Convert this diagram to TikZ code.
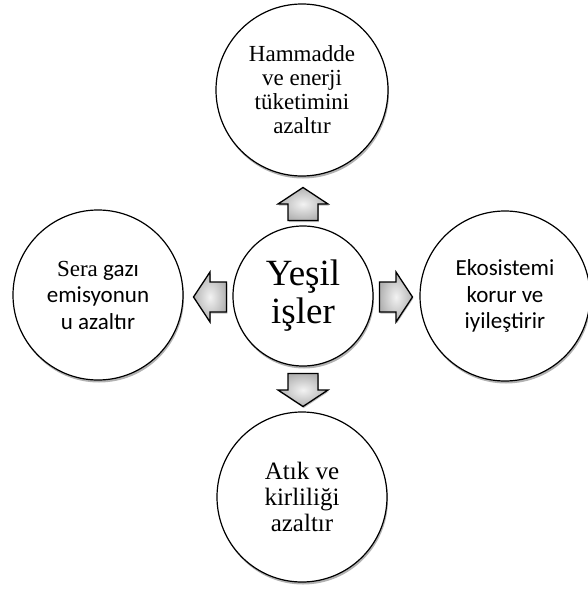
\documentclass[tikz,border=0pt]{standalone}
\usepackage{fontspec}
\setmainfont{Liberation Serif}
\newfontfamily\calib{Carlito}
\usetikzlibrary{shadows}
\begin{document}
\begin{tikzpicture}[x=1pt,y=-1pt,
  bubble/.style={circle, draw=black, line width=1.2pt, fill=white, align=center, inner sep=0pt,
    drop shadow={shadow xshift=1pt, shadow yshift=-2.5pt, opacity=0.3, fill=black}},
  blockarrow/.style={draw=black, line width=1.3pt, line join=miter,
    shading=radial, inner color=gray!10, outer color=gray!60,
    drop shadow={shadow xshift=0.8pt, shadow yshift=-1.5pt, opacity=0.25, fill=black}}]
\useasboundingbox (0,0) rectangle (587,594);
\node[bubble, minimum size=140pt, font=\fontsize{37}{38}\selectfont] (c) at (303,296) {Yeşil\\işler};
\node[bubble, minimum size=172pt, font=\fontsize{23}{24}\selectfont] (top) at (302,90) {Hammadde\\ve enerji\\tüketimini\\azaltır};
\node[bubble, minimum size=170pt, font=\calib\fontsize{23}{26.5}\selectfont] (left) at (98,295) {{\rmfamily Sera} gazı\\emisyonun\\u azaltır};
\node[bubble, minimum size=170pt, font=\calib\fontsize{23}{26.5}\selectfont] (right) at (505,296) {Ekosistemi\\korur ve\\iyileştirir};
\node[bubble, minimum size=170pt, font=\fontsize{25}{26}\selectfont] (bottom) at (302,497) {Atık ve\\kirliliği\\azaltır};
\coordinate (au) at (303,204);
\coordinate (al) at (210,297);
\coordinate (ar) at (396,297);
\coordinate (ad) at (303,390);
\foreach \p/\r in {au/90, al/180, ar/0, ad/270}{
  \begin{scope}[shift={(\p)}, rotate=\r]
    \path[blockarrow] (-16.5,-15) -- (0,-15) -- (0,-25) -- (16.5,0) -- (0,25) -- (0,15) -- (-16.5,15) -- cycle;
  \end{scope}
}
\end{tikzpicture}
\end{document}
